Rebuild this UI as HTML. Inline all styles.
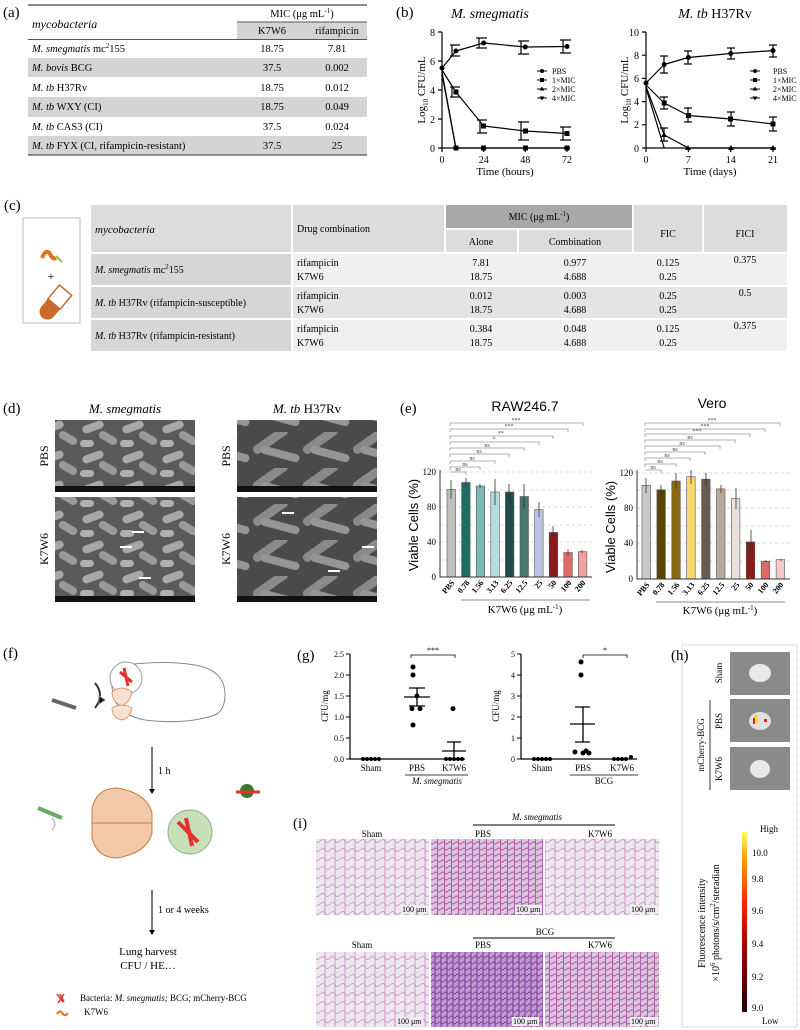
<!DOCTYPE html>
<html><head><meta charset="utf-8"><style>
html,body{margin:0;padding:0;background:#fff;}
svg{display:block;font-family:"Liberation Serif",serif;}
</style></head><body>
<svg width="800" height="1030" viewBox="0 0 800 1030" xmlns="http://www.w3.org/2000/svg">
<defs>
<pattern id="sem1" width="40" height="30" patternUnits="userSpaceOnUse">
<rect width="40" height="30" fill="#5a5a5a"/>
<rect x="2" y="3" width="22" height="8" rx="4" fill="#a8a8a8" transform="rotate(-20 13 7)"/>
<rect x="18" y="14" width="20" height="8" rx="4" fill="#9a9a9a" transform="rotate(30 28 18)"/>
<rect x="0" y="20" width="14" height="7" rx="3.5" fill="#b0b0b0"/>
</pattern>
<pattern id="sem2" width="50" height="36" patternUnits="userSpaceOnUse">
<rect width="50" height="36" fill="#4a4a4a"/>
<rect x="0" y="4" width="40" height="9" rx="4" fill="#8a8a8a" transform="rotate(-35 20 8)"/>
<rect x="10" y="18" width="40" height="8" rx="4" fill="#959595" transform="rotate(15 30 22)"/>
</pattern>
<pattern id="he1" width="10" height="9" patternUnits="userSpaceOnUse">
<rect width="10" height="9" fill="#eee6ee"/>
<path d="M0 4 Q3 1 5 4 T10 4 M5 0 V9" stroke="#c888c8" stroke-width="0.8" fill="none"/>
</pattern>
<pattern id="he2" width="7" height="6" patternUnits="userSpaceOnUse">
<rect width="7" height="6" fill="#dcc4dc"/>
<path d="M0 3 Q2 1 3.5 3 T7 3 M3.5 0 V6" stroke="#a858a8" stroke-width="0.9" fill="none"/>
</pattern>
<pattern id="he3" width="6" height="6" patternUnits="userSpaceOnUse">
<rect width="6" height="6" fill="#c49ad0"/>
<path d="M0 3 Q1.5 1 3 3 T6 3 M3 0 V6" stroke="#7a3a9a" stroke-width="1" fill="none"/>
</pattern>
<linearGradient id="cb" x1="0" y1="1" x2="0" y2="0">
<stop offset="0" stop-color="#200000"/><stop offset="0.35" stop-color="#a00000"/><stop offset="0.6" stop-color="#ff2000"/><stop offset="0.85" stop-color="#ffa000"/><stop offset="1" stop-color="#ffff60"/>
</linearGradient>
</defs>

<!-- (a) -->
<g font-size="10.5">
<text x="3" y="17" font-size="15">(a)</text>
<line x1="28" y1="5" x2="367" y2="5" stroke="#444" stroke-width="1.2"/>
<text x="32" y="28" font-style="italic" font-size="12">mycobacteria</text>
<text x="302" y="17" text-anchor="middle">MIC (μg mL<tspan font-size="7" dy="-4">-1</tspan><tspan dy="4">)</tspan></text>
<rect x="237" y="22" width="130" height="17" fill="#d4d4d4"/>
<line x1="237" y1="22" x2="367" y2="22" stroke="#555" stroke-width="1"/>
<line x1="28" y1="39.5" x2="367" y2="39.5" stroke="#555" stroke-width="1"/>
<text x="272" y="34" text-anchor="middle">K7W6</text><text x="337" y="34" text-anchor="middle">rifampicin</text>
<rect x="28" y="58" width="339" height="19" fill="#d4d4d4"/>
<rect x="28" y="97" width="339" height="20" fill="#d4d4d4"/>
<rect x="28" y="136" width="339" height="19" fill="#d4d4d4"/>
<line x1="28" y1="155" x2="367" y2="155" stroke="#555" stroke-width="1.2"/>
<text x="32" y="52"><tspan font-style="italic">M. smegmatis</tspan> mc<tspan font-size="7" dy="-4">2</tspan><tspan dy="4">155</tspan></text>
<text x="32" y="71"><tspan font-style="italic">M. bovis</tspan> BCG</text>
<text x="32" y="91"><tspan font-style="italic">M. tb</tspan> H37Rv</text>
<text x="32" y="110"><tspan font-style="italic">M. tb</tspan> WXY (CI)</text>
<text x="32" y="130"><tspan font-style="italic">M. tb</tspan> CAS3 (CI)</text>
<text x="32" y="149"><tspan font-style="italic">M. tb</tspan> FYX (CI, rifampicin-resistant)</text>
<g text-anchor="middle">
<text x="272" y="52">18.75</text><text x="337" y="52">7.81</text>
<text x="272" y="71">37.5</text><text x="337" y="71">0.002</text>
<text x="272" y="91">18.75</text><text x="337" y="91">0.012</text>
<text x="272" y="110">18.75</text><text x="337" y="110">0.049</text>
<text x="272" y="130">37.5</text><text x="337" y="130">0.024</text>
<text x="272" y="149">37.5</text><text x="337" y="149">25</text>
</g></g>

<!-- (b) -->
<g font-size="10" stroke-linejoin="round">
<text x="396" y="17" font-size="15">(b)</text>
<text x="490" y="18" font-size="14" font-style="italic" text-anchor="middle">M. smegmatis</text>
<text x="715" y="18" font-size="14" text-anchor="middle"><tspan font-style="italic">M. tb</tspan> H37Rv</text>
<g stroke="#000" stroke-width="1.2" fill="none">
<path d="M442 32V148H570"/>
<path d="M438 32H442M438 61H442M438 90H442M438 119H442M438 148H442M442 148V152M483.7 148V152M525.3 148V152M567 148V152"/>
<path d="M646 32V148H776"/>
<path d="M642 32H646M642 55.2H646M642 78.4H646M642 101.6H646M642 124.8H646M642 148H646M646 148V152M688.4 148V152M730.7 148V152M773 148V152"/>
<polyline points="442,68 455.9,51 483.7,43 525.3,47 567,46.5"/>
<polyline points="442,70 455.9,92 483.7,126 525.3,131 567,133.5"/>
<polyline points="442,72 455.9,148 567,148"/>
<polyline points="442,74 455.9,148"/>
<polyline points="646,83 664.2,64.5 688.4,57.5 730.7,53.5 773,50.6"/>
<polyline points="646,85 664.2,103 688.4,115.5 730.7,119 773,124"/>
<polyline points="646,86.5 664.2,135 688.4,148 773,148"/>
<polyline points="646,88 664.2,148"/>
<path d="M452 45V56M450 45H460M450 56H460M479 38V48M476 38H487M476 48H487M521 41V54M518 41H529M518 54H529M563 40V53M560 40H571M560 53H571M452 87V97M450 87H460M450 97H460M480 120V133M477 120H487M477 133H487M521 122V140M518 122H529M518 140H529M563 127V140M560 127H571M560 140H571"/>
<path d="M664 56V73M660 56H668M660 73H668M688 51V64M684 51H692M684 64H692M731 48V59M727 48H735M727 59H735M773 45V57M769 45H777M769 57H777M664 97V109M660 97H668M660 109H668M688 108V122M684 108H692M684 122H692M731 112V126M727 112H735M727 126H735M773 117V131M769 117H777M769 131H777M664 128V141M660 128H668M660 141H668"/>
</g>
<g fill="#000">
<circle cx="442" cy="68" r="2.5"/><circle cx="455.9" cy="51" r="2.5"/><circle cx="483.7" cy="43" r="2.5"/><circle cx="525.3" cy="47" r="2.5"/><circle cx="567" cy="46.5" r="2.5"/>
<rect x="453.5" y="89.5" width="5" height="5"/><rect x="481" y="123.5" width="5" height="5"/><rect x="523" y="128.5" width="5" height="5"/><rect x="564.5" y="131" width="5" height="5"/>
<rect x="453.5" y="145.5" width="5" height="5"/><rect x="481" y="145.5" width="5" height="5"/><rect x="523" y="145.5" width="5" height="5"/><rect x="564.5" y="145.5" width="5" height="5"/>
<circle cx="646" cy="83" r="2.5"/><circle cx="664.2" cy="64.5" r="2.5"/><circle cx="688.4" cy="57.5" r="2.5"/><circle cx="730.7" cy="53.5" r="2.5"/><circle cx="773" cy="50.6" r="2.5"/>
<rect x="661.7" y="100.5" width="5" height="5"/><rect x="686" y="113" width="5" height="5"/><rect x="728" y="116.5" width="5" height="5"/><rect x="770.5" y="121.5" width="5" height="5"/>
<path d="M664 132l3 5h-6zM688 145l3 5h-6zM731 145l3 5h-6zM773 145l3 5h-6z"/>
</g>
<g text-anchor="end">
<text x="435" y="36">8</text><text x="435" y="65">6</text><text x="435" y="94">4</text><text x="435" y="123">2</text><text x="435" y="152">0</text>
<text x="639" y="36">10</text><text x="639" y="59">8</text><text x="639" y="82">6</text><text x="639" y="105">4</text><text x="639" y="128">2</text><text x="639" y="152">0</text>
</g>
<g text-anchor="middle">
<text x="442" y="163">0</text><text x="483.7" y="163">24</text><text x="525.3" y="163">48</text><text x="567" y="163">72</text>
<text x="646" y="163">0</text><text x="688.4" y="163">7</text><text x="730.7" y="163">14</text><text x="773" y="163">21</text>
<text x="505" y="175" font-size="11">Time (hours)</text><text x="710" y="175" font-size="11">Time (days)</text>
</g>
<text transform="translate(425 90) rotate(-90)" text-anchor="middle" font-size="11">Log<tspan font-size="7" dy="3">10</tspan><tspan dy="-3"> CFU/mL</tspan></text>
<text transform="translate(628 90) rotate(-90)" text-anchor="middle" font-size="11">Log<tspan font-size="7" dy="3">10</tspan><tspan dy="-3"> CFU/mL</tspan></text>
<g font-size="8">
<path d="M537 71H547M537 80H547M537 89H547M537 98H547" stroke="#000"/>
<circle cx="542" cy="71" r="2"/><rect x="540" y="78" width="4" height="4"/><path d="M542 86.5l2.5 4h-5z"/><path d="M542 100.5l2.5 -4h-5z"/>
<text x="552" y="74">PBS</text><text x="552" y="83">1×MIC</text><text x="552" y="92">2×MIC</text><text x="552" y="101">4×MIC</text>
<path d="M750 71H760M750 80H760M750 89H760M750 98H760" stroke="#000"/>
<circle cx="755" cy="71" r="2"/><rect x="753" y="78" width="4" height="4"/><path d="M755 86.5l2.5 4h-5z"/><path d="M755 100.5l2.5 -4h-5z"/>
<text x="773" y="74">PBS</text><text x="773" y="83">1×MIC</text><text x="773" y="92">2×MIC</text><text x="773" y="101">4×MIC</text>
</g></g>

<!-- (c) -->
<g font-size="10">
<text x="4" y="210" font-size="15">(c)</text>
<rect x="23" y="218" width="57" height="105" fill="#fff" stroke="#bbb"/>
<path d="M42 258q4-10 8-4q3 6 6 4" stroke="#e07020" stroke-width="4" fill="none"/><path d="M56 256l6 6" stroke="#a8c030" stroke-width="2"/>
<text x="51" y="280" text-anchor="middle" font-size="12">+</text>
<rect x="36" y="296" width="36" height="16" rx="8" fill="#c9692a" transform="rotate(-50 54 304)"/>
<rect x="54" y="296" width="18" height="16" fill="#fff" stroke="#c9692a" stroke-width="1.5" transform="rotate(-50 54 304)"/>
<rect x="91" y="205" width="200" height="47" fill="#dcdcdc"/>
<rect x="293" y="205" width="151" height="47" fill="#dcdcdc"/>
<rect x="446" y="205" width="186" height="23" fill="#a8a8a8"/>
<rect x="446" y="230" width="71" height="22" fill="#dcdcdc"/>
<rect x="519" y="230" width="113" height="22" fill="#dcdcdc"/>
<rect x="634" y="205" width="68" height="47" fill="#dcdcdc"/>
<rect x="704" y="205" width="83" height="47" fill="#dcdcdc"/>
<rect x="91" y="254" width="200" height="31" fill="#d6d6d6"/>
<rect x="293" y="254" width="494" height="31" fill="#f0f0f0"/>
<rect x="91" y="287" width="200" height="31" fill="#d6d6d6"/>
<rect x="293" y="287" width="494" height="31" fill="#e4e4e4"/>
<rect x="91" y="320" width="200" height="31" fill="#d6d6d6"/>
<rect x="293" y="320" width="494" height="31" fill="#f0f0f0"/>
<text x="95" y="233" font-style="italic" font-size="11">mycobacteria</text>
<text x="297" y="232">Drug combination</text>
<text x="539" y="220" text-anchor="middle">MIC (μg mL<tspan font-size="7" dy="-4">-1</tspan><tspan dy="4">)</tspan></text>
<g text-anchor="middle">
<text x="481" y="245">Alone</text><text x="575" y="245">Combination</text><text x="668" y="237">FIC</text><text x="745" y="237">FICI</text>
<text x="481" y="266">7.81</text><text x="481" y="280">18.75</text><text x="575" y="266">0.977</text><text x="575" y="280">4.688</text><text x="668" y="266">0.125</text><text x="668" y="280">0.25</text><text x="745" y="263">0.375</text>
<text x="481" y="299">0.012</text><text x="481" y="313">18.75</text><text x="575" y="299">0.003</text><text x="575" y="313">4.688</text><text x="668" y="299">0.25</text><text x="668" y="313">0.25</text><text x="745" y="296">0.5</text>
<text x="481" y="332">0.384</text><text x="481" y="346">18.75</text><text x="575" y="332">0.048</text><text x="575" y="346">4.688</text><text x="668" y="332">0.125</text><text x="668" y="346">0.25</text><text x="745" y="329">0.375</text>
</g>
<text x="297" y="266">rifampicin</text><text x="297" y="280">K7W6</text>
<text x="297" y="299">rifampicin</text><text x="297" y="313">K7W6</text>
<text x="297" y="332">rifampicin</text><text x="297" y="346">K7W6</text>
<text x="95" y="273"><tspan font-style="italic">M. smegmatis</tspan> mc<tspan font-size="7" dy="-4">2</tspan><tspan dy="4">155</tspan></text>
<text x="95" y="306"><tspan font-style="italic">M. tb</tspan> H37Rv (rifampicin-susceptible)</text>
<text x="95" y="339"><tspan font-style="italic">M. tb</tspan> H37Rv (rifampicin-resistant)</text>
</g>

<!-- (d) -->
<g font-size="12">
<text x="3" y="413" font-size="15">(d)</text>
<text x="125" y="413" font-style="italic" text-anchor="middle" font-size="13">M. smegmatis</text>
<text x="307" y="413" text-anchor="middle" font-size="13"><tspan font-style="italic">M. tb</tspan> H37Rv</text>
<rect x="55" y="420" width="140" height="72" fill="url(#sem1)"/>
<rect x="55" y="497" width="140" height="105" fill="url(#sem1)"/>
<rect x="237" y="420" width="140" height="72" fill="url(#sem2)"/>
<rect x="237" y="497" width="140" height="105" fill="url(#sem2)"/>
<rect x="55" y="486" width="140" height="6" fill="#111"/><rect x="55" y="596" width="140" height="6" fill="#111"/>
<rect x="237" y="486" width="140" height="6" fill="#111"/><rect x="237" y="596" width="140" height="6" fill="#111"/>
<g stroke="#fff" stroke-width="2"><path d="M132 532h12M120 547h12M139 578h12M282 513h12M362 547h12M328 571h12"/></g>
<text transform="translate(48 456) rotate(-90)" text-anchor="middle">PBS</text>
<text transform="translate(48 549) rotate(-90)" text-anchor="middle">K7W6</text>
<text transform="translate(230 456) rotate(-90)" text-anchor="middle">PBS</text>
<text transform="translate(230 549) rotate(-90)" text-anchor="middle">K7W6</text>
</g>

<!-- (e) -->
<g font-size="9">
<text x="400" y="413" font-size="15">(e)</text>
<text x="525" y="411" font-size="14" text-anchor="middle" font-family="Liberation Sans,sans-serif">RAW246.7</text>
<text x="712" y="408" font-size="14" text-anchor="middle" font-family="Liberation Sans,sans-serif">Vero</text>
<g stroke="#ccc" stroke-dasharray="3,3" stroke-width="0.8">
<path d="M440 472H592M440 490H592M440 507H592M440 525H592M440 542H592M440 560H592"/>
<path d="M637 473H790M637 490H790M637 508H790M637 526H790M637 543H790M637 561H790"/>
</g>
<g stroke="#555" stroke-width="0.6">
<rect x="447" y="489.5" width="8.5" height="87.5" fill="#c0c0c0"/>
<rect x="461.6" y="482.5" width="8.5" height="94.5" fill="#1f6b66"/>
<rect x="476.2" y="486" width="8.5" height="91" fill="#7bbab5"/>
<rect x="490.8" y="492" width="8.5" height="85" fill="#b3dedd"/>
<rect x="505.4" y="492" width="8.5" height="85" fill="#1f4c48"/>
<rect x="520" y="496.5" width="8.5" height="80.5" fill="#497872"/>
<rect x="534.6" y="509.6" width="8.5" height="67.4" fill="#b9c3e6"/>
<rect x="549.2" y="532.4" width="8.5" height="44.6" fill="#8b1c1c"/>
<rect x="563.8" y="552.5" width="8.5" height="24.5" fill="#e06a6a"/>
<rect x="578.4" y="551.6" width="8.5" height="25.4" fill="#f0a0a0"/>
<rect x="642" y="485.4" width="8.5" height="93.6" fill="#c8c8c8"/>
<rect x="656.9" y="489.8" width="8.5" height="89.2" fill="#5a4500"/>
<rect x="671.8" y="481" width="8.5" height="98" fill="#8a6a10"/>
<rect x="686.7" y="476.6" width="8.5" height="102.4" fill="#f7d76a"/>
<rect x="701.6" y="479.2" width="8.5" height="99.8" fill="#6b5a50"/>
<rect x="716.5" y="488.9" width="8.5" height="90.1" fill="#b8a89c"/>
<rect x="731.4" y="498.6" width="8.5" height="80.4" fill="#e8e0dc"/>
<rect x="746.3" y="541.9" width="8.5" height="37.1" fill="#8b1c1c"/>
<rect x="761.2" y="561.3" width="8.5" height="17.7" fill="#e06a6a"/>
<rect x="776.1" y="559.6" width="8.5" height="19.4" fill="#f4c8c8"/>
</g>
<g stroke="#333" stroke-width="0.8" fill="none">
<path d="M451 480V499M466 478V487M480 484V488M495 479V505M509 484V500M524 484V509M539 502V517M553 526V539M568 549V556M582 550V553"/>
<path d="M646 478V493M661 485V494M676 473V489M691 470V484M706 473V486M721 485V493M736 488V509M751 530V554M766 560V562M781 559V561"/>
</g>
<path d="M440 470V577H592M637 470V579H790" stroke="#333" stroke-width="1" fill="none"/>
<g stroke="#999" stroke-width="0.8" fill="none">
<path d="M450 423H583V426M450 423V426M450 429H568V432M450 429V432M450 436H553V439M450 436V439M450 442H539V445M450 442V445M450 448H524V451M450 448V451M450 454H509V457M450 454V457M450 461H495V464M450 461V464M450 467H480V470M450 467V470M450 472H466V475"/>
<path d="M645 423H780V426M645 423V426M645 429H765V432M645 429V432M645 434H750V437M645 434V437M645 440H735V443M645 440V443M645 446H720V449M645 446V449M645 452H705V455M645 452V455M645 458H690V461M645 458V461M645 464H676V467M645 464V467M645 470H661V473"/>
</g>
<g font-size="6" text-anchor="middle" fill="#444">
<text x="516" y="422">***</text><text x="509" y="428">***</text><text x="501" y="435">**</text><text x="494" y="441">*</text><text x="487" y="447">ns</text><text x="479" y="453">ns</text><text x="472" y="460">ns</text><text x="465" y="466">ns</text><text x="458" y="471">ns</text>
<text x="712" y="422">***</text><text x="705" y="428">***</text><text x="697" y="433">***</text><text x="690" y="439">ns</text><text x="682" y="445">ns</text><text x="675" y="451">ns</text><text x="667" y="457">ns</text><text x="660" y="463">ns</text><text x="653" y="469">ns</text>
</g>
<g text-anchor="end" font-size="9">
<text x="436" y="475">120</text><text x="436" y="510">80</text><text x="436" y="545">40</text><text x="436" y="580">0</text>
<text x="633" y="476">120</text><text x="633" y="511">80</text><text x="633" y="546">40</text><text x="633" y="582">0</text>
</g>
<text transform="translate(418 525) rotate(-90)" text-anchor="middle" font-size="13" font-family="Liberation Sans,sans-serif">Viable Cells (%)</text>
<text transform="translate(615 527) rotate(-90)" text-anchor="middle" font-size="13" font-family="Liberation Sans,sans-serif">Viable Cells (%)</text>
<g font-size="8" font-weight="bold" text-anchor="end">
<text transform="translate(455 583) rotate(-50)">PBS</text><text transform="translate(470 583) rotate(-50)">0.78</text><text transform="translate(484 583) rotate(-50)">1.56</text><text transform="translate(499 583) rotate(-50)">3.13</text><text transform="translate(513 583) rotate(-50)">6.25</text><text transform="translate(528 583) rotate(-50)">12.5</text><text transform="translate(543 583) rotate(-50)">25</text><text transform="translate(557 583) rotate(-50)">50</text><text transform="translate(572 583) rotate(-50)">100</text><text transform="translate(586 583) rotate(-50)">200</text>
<text transform="translate(650 585) rotate(-50)">PBS</text><text transform="translate(665 585) rotate(-50)">0.78</text><text transform="translate(680 585) rotate(-50)">1.56</text><text transform="translate(695 585) rotate(-50)">3.13</text><text transform="translate(710 585) rotate(-50)">6.25</text><text transform="translate(725 585) rotate(-50)">12.5</text><text transform="translate(740 585) rotate(-50)">25</text><text transform="translate(754 585) rotate(-50)">50</text><text transform="translate(769 585) rotate(-50)">100</text><text transform="translate(784 585) rotate(-50)">200</text>
</g>
<path d="M461 600H590M656 602H785" stroke="#888"/>
<text x="525" y="613" font-size="11" text-anchor="middle">K7W6 (μg mL<tspan font-size="7" dy="-4">-1</tspan><tspan dy="4">)</tspan></text>
<text x="720" y="614" font-size="11" text-anchor="middle">K7W6 (μg mL<tspan font-size="7" dy="-4">-1</tspan><tspan dy="4">)</tspan></text>
</g>

<!-- (f) -->
<g font-size="10">
<text x="3" y="658" font-size="15">(f)</text>
<g fill="none" stroke="#888" stroke-width="1">
<path d="M115 700q-10-30 10-35q40-5 70 0q30 5 30 30q0 15-10 20q-30 10-70 5q-25-5-30-20z"/>
<path d="M95 683q10 12 0 25" stroke="#333" stroke-width="2"/>
<path d="M105 700l-6 -4v8z" fill="#000"/>
</g>
<circle cx="126" cy="678" r="16" fill="#fff" stroke="#999"/>
<path d="M120 672l12 10M124 668l4 18" stroke="#e83030" stroke-width="3"/>
<path d="M112 692q10-8 20 0q-2 10-10 14q-10-4-10-14z" fill="#f8e0d0" stroke="#d08050" stroke-width="0.7"/>
<path d="M112 708q10-6 20 0q-2 10-10 12q-10-2-10-12z" fill="#f8e0d0" stroke="#d08050" stroke-width="0.7"/>
<path d="M52 700l24 8" stroke="#666" stroke-width="4"/>
<path d="M152 747V792" stroke="#222" stroke-width="1.2"/><path d="M149 789l3 5 3-5z"/>
<text x="158" y="774">1 h</text>
<path d="M52 818q6 6 0 12" stroke="#aaa" fill="none"/>
<path d="M38 808l24 10" stroke="#6a6" stroke-width="4"/>
<path d="M92 808q5-20 25-20q30 5 35 25v12h-60z" fill="#f2c8a8" stroke="#c8783a"/>
<path d="M92 838q5 20 25 20q30-5 35-25v-10h-60z" fill="#f2c8a8" stroke="#c8783a"/>
<circle cx="190" cy="832" r="22" fill="#c8e0b8" stroke="#9a9"/>
<path d="M178 822l20 20M186 818l6 28" stroke="#e83030" stroke-width="4"/>
<circle cx="247" cy="791" r="7" fill="#3a7a28"/>
<path d="M236 792h24" stroke="#e83030" stroke-width="3"/>
<path d="M152 890V933" stroke="#222" stroke-width="1.2"/><path d="M149 930l3 5 3-5z"/>
<text x="158" y="913">1 or 4 weeks</text>
<text x="148" y="955" text-anchor="middle" font-size="11">Lung harvest</text>
<text x="148" y="969" text-anchor="middle" font-size="11">CFU / HE…</text>
<path d="M57 994l6 8M60 994l4 8M64 994l-6 9" stroke="#e83030" stroke-width="1.5"/>
<text x="80" y="1001" font-size="9">Bacteria: <tspan font-style="italic">M. smegmatis;</tspan> BCG; mCherry-BCG</text>
<path d="M57 1014q3-5 6 0q2 3 5 -1" stroke="#e07020" stroke-width="2" fill="none"/>
<text x="84" y="1015" font-size="9">K7W6</text>
</g>

<!-- (g) -->
<g font-size="9">
<text x="297" y="660" font-size="15">(g)</text>
<path d="M350 654V759H465M521 654V759H637" stroke="#000" stroke-width="1.2" fill="none"/>
<path d="M346 654H350M346 675H350M346 696H350M346 717H350M346 738H350M346 759H350M517 654H521M517 675H521M517 696H521M517 717H521M517 738H521M517 759H521" stroke="#000"/>
<g text-anchor="end" font-size="8">
<text x="344" y="657">2.5</text><text x="344" y="678">2.0</text><text x="344" y="699">1.5</text><text x="344" y="720">1.0</text><text x="344" y="741">0.5</text><text x="344" y="762">0.0</text>
<text x="515" y="657">5</text><text x="515" y="678">4</text><text x="515" y="699">3</text><text x="515" y="720">2</text><text x="515" y="741">1</text><text x="515" y="762">0</text>
</g>
<text transform="translate(328 706) rotate(-90)" text-anchor="middle">CFU/mg</text>
<text transform="translate(499 706) rotate(-90)" text-anchor="middle">CFU/mg</text>
<g fill="#000">
<circle cx="363" cy="759" r="2"/><circle cx="367" cy="759" r="2"/><circle cx="371" cy="759" r="2"/><circle cx="375" cy="759" r="2"/><circle cx="379" cy="759" r="2"/>
<circle cx="413" cy="667" r="2.5"/><circle cx="413" cy="675" r="2.5"/><circle cx="417" cy="696" r="2.5"/><circle cx="412" cy="708.6" r="2.5"/><circle cx="420" cy="708.6" r="2.5"/><circle cx="413" cy="725" r="2.5"/>
<circle cx="453" cy="708.6" r="2.5"/><circle cx="446" cy="759" r="2"/><circle cx="450" cy="759" r="2"/><circle cx="454" cy="759" r="2"/><circle cx="458" cy="759" r="2"/><circle cx="462" cy="759" r="2"/>
<circle cx="534" cy="759" r="2"/><circle cx="538" cy="759" r="2"/><circle cx="542" cy="759" r="2"/><circle cx="546" cy="759" r="2"/><circle cx="550" cy="759" r="2"/>
<circle cx="581" cy="662" r="2.5"/><circle cx="581" cy="675" r="2.5"/><circle cx="575" cy="752" r="2.5"/><circle cx="583" cy="753" r="2.5"/><circle cx="589" cy="753" r="2.5"/><circle cx="586" cy="751" r="2.5"/>
<circle cx="614" cy="759" r="2"/><circle cx="618" cy="759" r="2"/><circle cx="622" cy="759" r="2"/><circle cx="626" cy="759" r="2"/><circle cx="631" cy="757" r="2"/>
</g>
<path d="M404 697H430M409 688H425M409 706H425M417 688V706M442 751H466M447 742H461M447 759H461M454 742V759M570 724H595M575 707H590M575 742H590M583 707V742" stroke="#000" stroke-width="1.3"/>
<path d="M411 658V655H455V658M583 658V655H627V658" stroke="#000" stroke-width="0.8" fill="none"/>
<text x="433" y="653" text-anchor="middle" font-size="8">***</text><text x="605" y="653" text-anchor="middle" font-size="8">*</text>
<text x="371" y="771" text-anchor="middle">Sham</text><text x="417" y="771" text-anchor="middle">PBS</text><text x="454" y="771" text-anchor="middle">K7W6</text>
<text x="542" y="771" text-anchor="middle">Sham</text><text x="583" y="771" text-anchor="middle">PBS</text><text x="622" y="771" text-anchor="middle">K7W6</text>
<path d="M405 775H468M570 775H638" stroke="#000" stroke-width="0.8"/>
<text x="437" y="784" text-anchor="middle" font-style="italic">M. smegmatis</text><text x="604" y="784" text-anchor="middle">BCG</text>
</g>

<!-- (h) -->
<g font-size="9">
<rect x="682" y="645" width="115" height="382" fill="#fff" stroke="#bbb" stroke-dasharray="1,1"/>
<text x="671" y="660" font-size="15">(h)</text>
<rect x="730" y="652" width="60" height="43" fill="#8a8a8a"/>
<rect x="730" y="699" width="60" height="43" fill="#8a8a8a"/>
<rect x="730" y="747" width="60" height="43" fill="#8a8a8a"/>
<ellipse cx="760" cy="673" rx="11" ry="9" fill="#e8e8e8"/>
<ellipse cx="760" cy="721" rx="11" ry="9" fill="#e0e0e0"/>
<rect x="754" y="715" width="4" height="8" fill="#ffe000"/><rect x="753" y="718" width="2" height="6" fill="#e02020"/><rect x="764" y="719" width="3" height="3" fill="#e02020"/>
<ellipse cx="760" cy="769" rx="10" ry="9" fill="#e8e8e8"/>
<text transform="translate(722 673) rotate(-90)" text-anchor="middle">Sham</text>
<text transform="translate(722 721) rotate(-90)" text-anchor="middle">PBS</text>
<text transform="translate(722 769) rotate(-90)" text-anchor="middle">K7W6</text>
<text transform="translate(704 745) rotate(-90)" text-anchor="middle">mCherry-BCG</text>
<path d="M710 700V790" stroke="#000" stroke-width="0.8"/>
<rect x="742" y="832" width="5" height="180" fill="url(#cb)"/>
<g font-size="9"><text x="760" y="832">High</text><text x="752" y="856">10.0</text><text x="752" y="882">9.8</text><text x="752" y="914">9.6</text><text x="752" y="947">9.4</text><text x="752" y="980">9.2</text><text x="752" y="1011">9.0</text><text x="762" y="1024">Low</text></g>
<text transform="translate(705 923) rotate(-90)" text-anchor="middle" font-size="10">Fluorescence intensity</text>
<text transform="translate(719 923) rotate(-90)" text-anchor="middle" font-size="10">×10<tspan font-size="7" dy="-4">6</tspan><tspan dy="4"> photons/s/cm</tspan><tspan font-size="7" dy="-4">2</tspan><tspan dy="4">/steradian</tspan></text>
</g>

<!-- (i) -->
<g font-size="9">
<text x="293" y="828" font-size="15">(i)</text>
<text x="537" y="820" text-anchor="middle" font-style="italic">M. smegmatis</text>
<path d="M473 825H615M473 938H615" stroke="#000"/>
<text x="372" y="837" text-anchor="middle">Sham</text><text x="483" y="837" text-anchor="middle">PBS</text><text x="600" y="837" text-anchor="middle">K7W6</text>
<text x="545" y="935" text-anchor="middle">BCG</text>
<text x="362" y="948" text-anchor="middle">Sham</text><text x="483" y="948" text-anchor="middle">PBS</text><text x="600" y="948" text-anchor="middle">K7W6</text>
<rect x="316" y="839" width="113" height="76" fill="url(#he1)"/>
<rect x="431" y="839" width="112" height="76" fill="url(#he2)"/>
<rect x="545" y="839" width="114" height="76" fill="url(#he1)"/>
<rect x="316" y="952" width="113" height="75" fill="url(#he1)"/>
<rect x="431" y="952" width="112" height="75" fill="url(#he3)"/>
<rect x="545" y="952" width="114" height="75" fill="url(#he2)"/>
<g font-size="8"><rect x="401" y="905" width="27" height="9" fill="#eee"/><text x="402" y="912">100 μm</text><rect x="515" y="905" width="27" height="9" fill="#eee"/><text x="516" y="912">100 μm</text><rect x="630" y="905" width="28" height="9" fill="#eee"/><text x="631" y="912">100 μm</text>
<rect x="396" y="1017" width="27" height="9" fill="#eee"/><text x="397" y="1024">100 μm</text><rect x="512" y="1017" width="27" height="9" fill="#eee"/><text x="513" y="1024">100 μm</text><rect x="630" y="1017" width="28" height="9" fill="#eee"/><text x="631" y="1024">100 μm</text></g>
</g>
</svg>
</body></html>
